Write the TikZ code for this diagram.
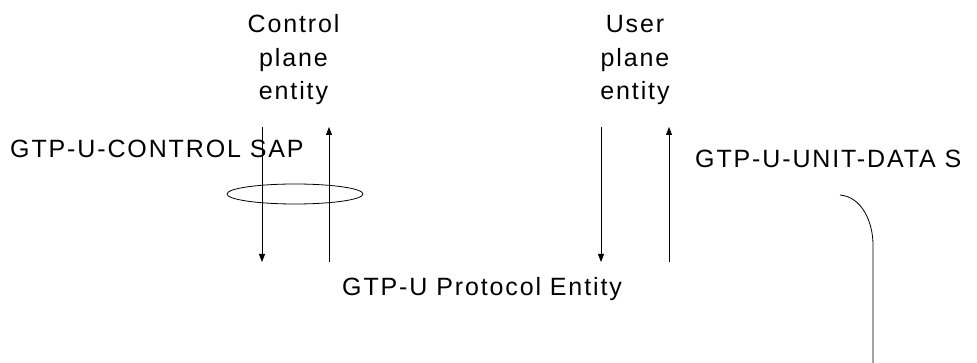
\documentclass[tikz,border=0pt]{standalone}
\usepackage{fontspec}
\setmainfont{Liberation Sans}[LetterSpace=7.5]
\usetikzlibrary{arrows.meta}

\tikzset{
  lbl/.style={font=\fontsize{25}{33.5}\selectfont, inner sep=0pt, anchor=base},
  flow/.style={line width=0.8pt, -{Triangle[length=8pt,width=6pt]}},
  rim/.style={line width=0.8pt},
}

\begin{document}
\begin{tikzpicture}[x=1pt, y=-1pt]
\useasboundingbox (0,0) rectangle (977,363);

% plane entities on top (base = last line)
\node[lbl, align=center] (cpe) at (293.5,100) {Control\\plane\\entity};
\node[lbl, align=center] (upe) at (635,100) {User\\plane\\entity};

% access points and protocol entity
\node[lbl, anchor=base west] (csap) at (10,158) {GTP-U-CONTROL SAP};
\node[lbl, anchor=base west] (usap) at (695,168) {GTP-U-UNIT-DATA S};
\node[lbl, anchor=base west] (gpe) at (342,295) {GTP-U Protocol Entity};

% control plane primitives
\coordinate (cdTop) at (262,127);
\coordinate (cdBot) at (262,262);
\coordinate (cuBot) at (329,262);
\coordinate (cuTop) at (329,127);
\draw[flow] (cdTop) -- (cdBot);
\draw[flow] (cuBot) -- (cuTop);
\draw[rim] (295,194) ellipse [x radius=68pt, y radius=10pt];

% user plane primitives
\coordinate (udTop) at (601,127);
\coordinate (udBot) at (601,262);
\coordinate (uuBot) at (669,262);
\coordinate (uuTop) at (669,127);
\draw[flow] (udTop) -- (udBot);
\draw[flow] (uuBot) -- (uuTop);
\draw[rim] (840,195) .. controls (862,197) and (873,222) .. (873,245) -- (873,363);

\end{tikzpicture}
\end{document}
